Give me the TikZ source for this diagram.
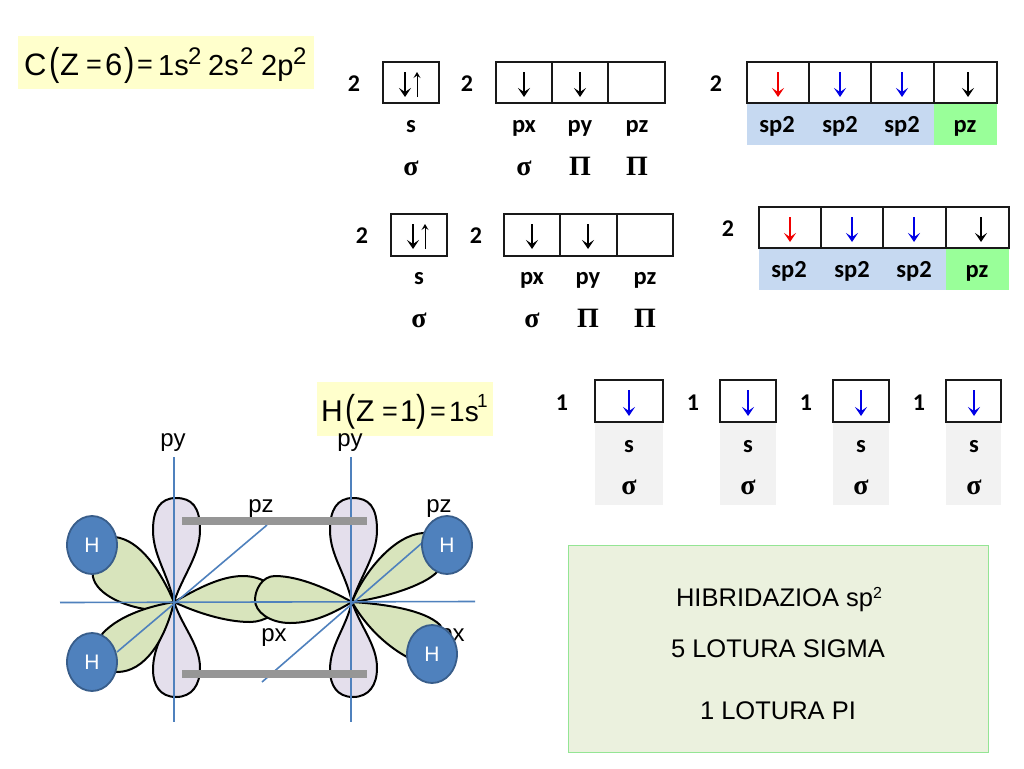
\documentclass[tikz,border=0pt]{standalone}
\usepackage{fontspec}
\setmainfont{Liberation Sans}
\newfontfamily\calfont{Carlito}
\newfontfamily\symfont{Liberation Serif}
\usetikzlibrary{arrows.meta,shapes.geometric}
\definecolor{yel}{HTML}{FFFFCC}
\definecolor{sblue}{HTML}{C6D9F1}
\definecolor{sgreen}{HTML}{99FF99}
\definecolor{lpurple}{HTML}{E4DFEC}
\definecolor{lgreen}{HTML}{D8E4BC}
\definecolor{axisblue}{HTML}{4F81BD}
\definecolor{hblue}{HTML}{4F81BD}
\definecolor{hedge}{HTML}{385D8A}
\definecolor{barg}{HTML}{969696}
\definecolor{cellg}{HTML}{F2F2F2}
\definecolor{boxg}{HTML}{EBF1DE}
\definecolor{dblue}{HTML}{0000E6}
\definecolor{dred}{HTML}{F00000}
\newcommand{\tallp}[1]{\scalebox{1}[1.25]{#1}}
\tikzset{
 lab/.style={font=\calfont\bfseries\fontsize{24}{28}\selectfont,anchor=base,inner sep=0},
 sublab/.style={font=\calfont\bfseries\fontsize{24.5}{28}\selectfont,anchor=base,inner sep=0},
 greek/.style={font=\symfont\bfseries\fontsize{28}{30}\selectfont,anchor=base,inner sep=0},
 arial/.style={font=\fontsize{24}{28}\selectfont,anchor=base,inner sep=0},
 sumtext/.style={font=\fontsize{25.5}{28}\selectfont,anchor=base,inner sep=0},
 eqa/.style={font=\fontsize{31}{34}\selectfont,anchor=base west,inner sep=0},
 eqb/.style={font=\fontsize{29}{33}\selectfont,anchor=base west,inner sep=0},
 eqs/.style={font=\fontsize{24}{26}\selectfont,anchor=base west,inner sep=0},
 eqh/.style={font=\fontsize{30}{33}\selectfont,anchor=base west,inner sep=0},
 eqeq/.style={font=\fontsize{27}{30}\selectfont,anchor=base west,inner sep=0},
 cell/.style={draw=black!90,line width=1.5pt},
 spin/.style={line width=1.7pt,-{Stealth[length=9pt,width=12pt,inset=4pt]}},
 spinup/.style={line width=1pt,-{Stealth[length=6pt,width=7pt,inset=2.5pt]}},
 pl/.style={draw=black,line width=2pt,fill=lpurple,line join=round},
 gl/.style={draw=black,line width=2pt,fill=lgreen,line join=round},
 ax/.style={draw=axisblue,line width=1.6pt},
 bar/.style={fill=barg,draw=none},
 hatom/.style={ellipse,draw=hedge,line width=1.8pt,fill=hblue,text=white,minimum width=50pt,minimum height=58pt,inner sep=0,font=\fontsize{21}{24}\selectfont},
}
\begin{document}
\begin{tikzpicture}[x=1pt,y=-1pt]
\useasboundingbox (0,0) rectangle (1024,768);
\fill[white] (0,0) rectangle (1024,768);
% yellow boxes
\fill[yel] (18,36) rectangle (314,89);
\fill[yel] (317,382) rectangle (493,436);
% carbon formula
\node[eqa] (c1) at (24,75) {C};
\node[eqa] (c2) at (49,75) {\tallp{(}};
\node[eqa] (c3) at (60,75) {Z};
\node[eqeq] (c4) at (86,74) {=};
\node[eqa] (c5) at (105,75) {6};
\node[eqa] (c6) at (124,75) {\tallp{)}};
\node[eqeq] (c7) at (137,74) {=};
\node[eqb] (c8) at (158,75) {1s};
\node[eqs] (c9) at (188,64) {2};
\node[eqb] (c10) at (208,75) {2s};
\node[eqs] (c11) at (240,64) {2};
\node[eqb] (c12) at (261,75) {2p};
\node[eqs] (c13) at (293,64) {2};
% hydrogen formula
\node[eqh] (h1t) at (321,421) {H};
\node[eqh] (h2t) at (345,421) {\tallp{(}};
\node[eqh] (h3t) at (356,421) {Z};
\node[eqeq] (h4t) at (382,420) {=};
\node[eqh] (h5t) at (400,421) {1};
\node[eqh] (h6t) at (416,421) {\tallp{)}};
\node[eqeq] (h7t) at (430,420) {=};
\node[eqh,font=\fontsize{28}{30}\selectfont] (h8t) at (449,421) {1s};
\node[eqs,font=\fontsize{19}{22}\selectfont] (h9t) at (477,407) {1};

% ---- row 1
\draw[cell] (383,62) rectangle (439,103);
\draw[cell] (496,62) rectangle (665,103) (552,62)--(552,103) (608,62)--(608,103);
\fill[sblue] (747,103) rectangle (934,145);
\fill[sgreen] (934,103) rectangle (997,145);
\draw[cell] (747,62) rectangle (997,103) (809,62)--(809,103) (871,62)--(871,103) (934,62)--(934,103);
\foreach \x/\t in {354/2,467/2,716/2}{\node[lab] at (\x,91) {\t};}
\foreach \x/\t in {411/s,524/px,580/py,637/pz}{\node[sublab] at (\x,132) {\t};}
\foreach \x/\t in {777/sp2,840/sp2,902/sp2,965/pz}{\node[sublab] at (\x,132) {\t};}
\foreach \x/\t in {411/σ,524/σ,580/Π,637/Π}{\node[greek] at (\x,175) {\t};}
\draw[spin] (405,72)--(405,97);
\draw[spinup] (417,97)--(417,72);
\draw[spin] (524,72)--(524,97);
\draw[spin] (580,72)--(580,97);
\draw[spin,dred] (778,72)--(778,97);
\draw[spin,dblue] (840,72)--(840,97);
\draw[spin,dblue] (902,72)--(902,97);
\draw[spin] (968,72)--(968,97);

% ---- row 2
\draw[cell] (391,214) rectangle (447,256);
\draw[cell] (504,214) rectangle (673,256) (560,214)--(560,256) (617,214)--(617,256);
\fill[sblue] (759,248) rectangle (946,290);
\fill[sgreen] (946,248) rectangle (1009,290);
\draw[cell] (759,207) rectangle (1009,248) (821,207)--(821,248) (883,207)--(883,248) (946,207)--(946,248);
\foreach \x/\t in {362/2,476/2}{\node[lab] at (\x,243) {\t};}
\node[lab] at (728,236) {2};
\foreach \x/\t in {419/s,532/px,588/py,645/pz}{\node[sublab] at (\x,284) {\t};}
\foreach \x/\t in {789/sp2,852/sp2,914/sp2,977/pz}{\node[sublab] at (\x,277) {\t};}
\foreach \x/\t in {419/σ,532/σ,588/Π,645/Π}{\node[greek] at (\x,327) {\t};}
\draw[spin] (413,224)--(413,249);
\draw[spinup] (425,249)--(425,224);
\draw[spin] (532,224)--(532,249);
\draw[spin] (588,224)--(588,249);
\draw[spin,dred] (790,217)--(790,242);
\draw[spin,dblue] (852,217)--(852,242);
\draw[spin,dblue] (914,217)--(914,242);
\draw[spin] (981,217)--(981,242);

% ---- hydrogen row
\foreach \a/\b in {595/663,720/776,833/889,946/1001}{
 \fill[cellg] (\a,422) rectangle (\b,505);
 \draw[cell] (\a,380) rectangle (\b,422);}
\foreach \x in {562,693,806,919}{\node[lab] at (\x,410) {1};}
\foreach \x in {629,748,861,974}{
 \draw[spin,dblue] (\x,390)--(\x,416);
 \node[sublab] at (\x,452) {s};
 \node[greek] at (\x,494) {σ};}

% ---- summary box
\draw[draw=sgreen!80!gray,fill=boxg,line width=.9pt] (568,545) rectangle (988,752);
\node[sumtext] (t1) at (779,606.5) {HIBRIDAZIOA sp\raisebox{8pt}{\fontsize{16}{18}\selectfont 2}};
\node[sumtext] (t2) at (778,657) {5 LOTURA SIGMA};
\node[sumtext] (t3) at (778,719) {1 LOTURA PI};

% ---- orbital lobes
\draw[pl] (174,602) .. controls (167,572) and (153,555) .. (153,530) .. controls (153,510) and (160,498) .. (176,498) .. controls (192,498) and (200,507) .. (200,530) .. controls (200,555) and (183,575) .. (174,602);
\draw[pl] (174,602) .. controls (167,630) and (153,645) .. (153,670) .. controls (153,685) and (160,697) .. (176,697) .. controls (192,697) and (200,685) .. (200,668) .. controls (200,645) and (183,628) .. (174,602);
\draw[pl] (352,602) .. controls (345,572) and (330,555) .. (330,530) .. controls (330,510) and (337,498) .. (353,498) .. controls (369,498) and (377,507) .. (377,530) .. controls (377,555) and (361,575) .. (352,602);
\draw[pl] (352,602) .. controls (345,630) and (330,645) .. (330,670) .. controls (330,685) and (337,697) .. (353,697) .. controls (369,697) and (377,685) .. (377,668) .. controls (377,645) and (361,628) .. (352,602);
% H lobes
\draw[gl] (174,602) .. controls (160,570) and (140,540) .. (115,537) .. controls (100,535) and (90,555) .. (93,577) .. controls (97,595) and (125,606) .. (145,609) .. controls (155,608) and (165,604) .. (174,602);
\draw[gl] (174,602) .. controls (150,606) and (120,615) .. (103,633) .. controls (90,650) and (95,672) .. (117,672) .. controls (145,672) and (165,640) .. (174,602);
\draw[gl] (352,602) .. controls (365,570) and (395,535) .. (423,533) .. controls (445,530) and (450,555) .. (437,572) .. controls (425,585) and (385,598) .. (352,602);
\draw[gl] (352,602) .. controls (385,604) and (425,610) .. (440,625) .. controls (450,640) and (430,665) .. (407,657) .. controls (385,645) and (365,625) .. (352,602);
% px lobes
\draw[gl] (174,602) .. controls (195,590) and (220,576) .. (243,576) .. controls (265,576) and (280,590) .. (280,602) .. controls (280,612) and (265,622) .. (250,622) .. controls (225,622) and (195,612) .. (174,602);
\draw[gl] (352,602) .. controls (330,590) and (300,576) .. (275,576) .. controls (262,576) and (255,590) .. (255,600) .. controls (255,612) and (270,623) .. (290,623) .. controls (315,623) and (335,612) .. (352,602);
% axes
\draw[ax] (174,457)--(174,722);
\draw[ax] (351,457)--(351,722);
\draw[ax] (60,602.5)--(475,601.5);
\draw[ax] (117,652)--(267,525);
\draw[ax] (262,682)--(422,543);
% pi bars
\fill[bar] (182,517) rectangle (367,525);
\fill[bar] (182,670) rectangle (367,678);
% labels
\node[arial] (py1) at (173,446) {py};
\node[arial] (py2) at (350,446) {py};
\node[arial] (pz1) at (261,512) {pz};
\node[arial] (pz2) at (439,512) {pz};
\node[arial] (px1) at (274,641) {px};
\node[arial] (px2) at (452,641) {px};
% H atoms
\node[hatom] (h1) at (92,545) {H};
\node[hatom] (h2) at (92,662) {H};
\node[hatom] (h3) at (447,545) {H};
\node[hatom] (h4) at (432,654) {H};
\end{tikzpicture}
\end{document}
